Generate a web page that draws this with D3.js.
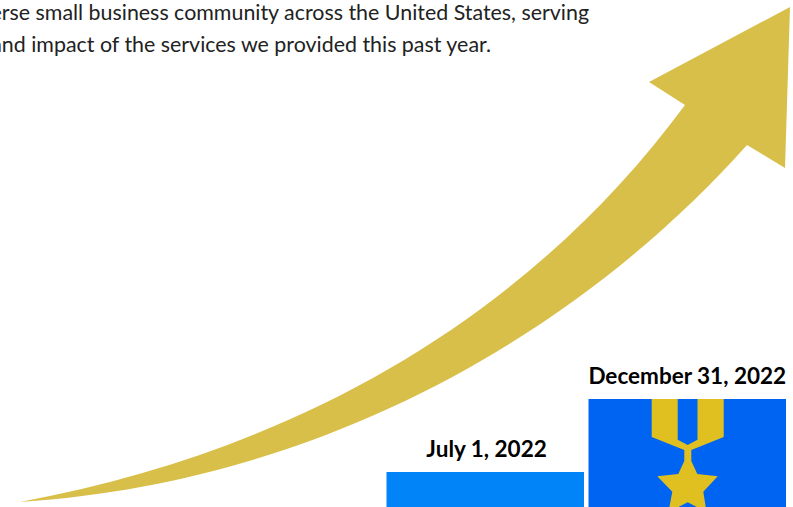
<!DOCTYPE html>
<html>
<head>
<meta charset="utf-8">
<script src="https://cdn.jsdelivr.net/npm/d3@7/dist/d3.min.js"></script>
<style>
html,body{margin:0;padding:0;background:#fff;overflow:hidden}
svg{display:block}
text{font-family:Lato,"Open Sans",sans-serif}
</style>
</head>
<body>
<svg id="chart" width="793" height="507"></svg>
<script>
const introLines = [
  "erse small business community across the United States, serving",
  "and impact of the services we provided this past year."
];
const dates = ["July 1, 2022", "December 31, 2022"];
const barValues = [35, 108];
const barColors = ["#0084f8", "#0064f2"];

// Growth arrow: Bezier shaft edges from the tail, joined by the straight head outline.
const arrowTail = [20, 502];
const arrowUpper = [[300,450],[530,315],[685,105]];
const arrowLower = [[350,480],[600,310],[747,145]];
const arrowHead = [[649,82],[790,7],[785,168]];

// Medal artwork inside the second bar.
const medalRibbon = [[651.7,399],[677.7,399],[677.7,439.7],[687.7,445],[697.5,439.7],[697.5,399],[723.7,399],[723.7,437],[691.3,450],[691.3,461],[697.3,474],[717.7,476.3],[703.3,491.7],[706.5,512],[687.7,502.3],[668.5,512],[672.3,491.7],[657.3,476.3],[678.3,474],[684.3,461],[684.3,450],[651.7,437]];

const svg = d3.select("#chart");
const x = d3.scaleBand().domain(dates).range([386.5, 786]).paddingInner(0.0223);
const y = d3.scaleLinear().domain([0, 108]).range([507, 399]);

svg.selectAll("text.intro").data(introLines).join("text")
  .attr("class", "intro")
  .attr("x", (d, i) => i === 0 ? 589 : 491)
  .attr("y", (d, i) => 19.5 + i * 32)
  .attr("text-anchor", "end")
  .attr("font-size", 21.4)
  .attr("fill", "#222")
  .text(d => d);

// Outline: up the top edge, around the head, back down the bottom edge.
const outline = d3.path();
outline.moveTo(...arrowTail);
outline.bezierCurveTo(...arrowUpper.flat());
arrowHead.forEach(p => outline.lineTo(...p));
outline.lineTo(...arrowLower[2]);
outline.bezierCurveTo(...arrowLower[1], ...arrowLower[0], ...arrowTail);
outline.closePath();
svg.append("path")
  .attr("d", outline.toString())
  .attr("fill", "#d8bf4a");

svg.selectAll("rect.bar").data(dates).join("rect")
  .attr("class", "bar")
  .attr("x", d => x(d))
  .attr("y", (d, i) => y(barValues[i]))
  .attr("width", x.bandwidth())
  .attr("height", (d, i) => y(0) - y(barValues[i]))
  .attr("fill", (d, i) => barColors[i]);

svg.append("path")
  .attr("d", d3.line()(medalRibbon) + "Z")
  .attr("fill", "#e0c020");

svg.selectAll("text.date").data(dates).join("text")
  .attr("class", "date")
  .attr("x", (d, i) => x(d) + x.bandwidth() / 2 + (i === 0 ? 1.3 : 0))
  .attr("y", (d, i) => y(barValues[i]) - 15)
  .attr("text-anchor", "middle")
  .attr("font-size", 22.5)
  .attr("font-weight", 700)
  .attr("fill", "#000")
  .text(d => d);
</script>
</body>
</html>
